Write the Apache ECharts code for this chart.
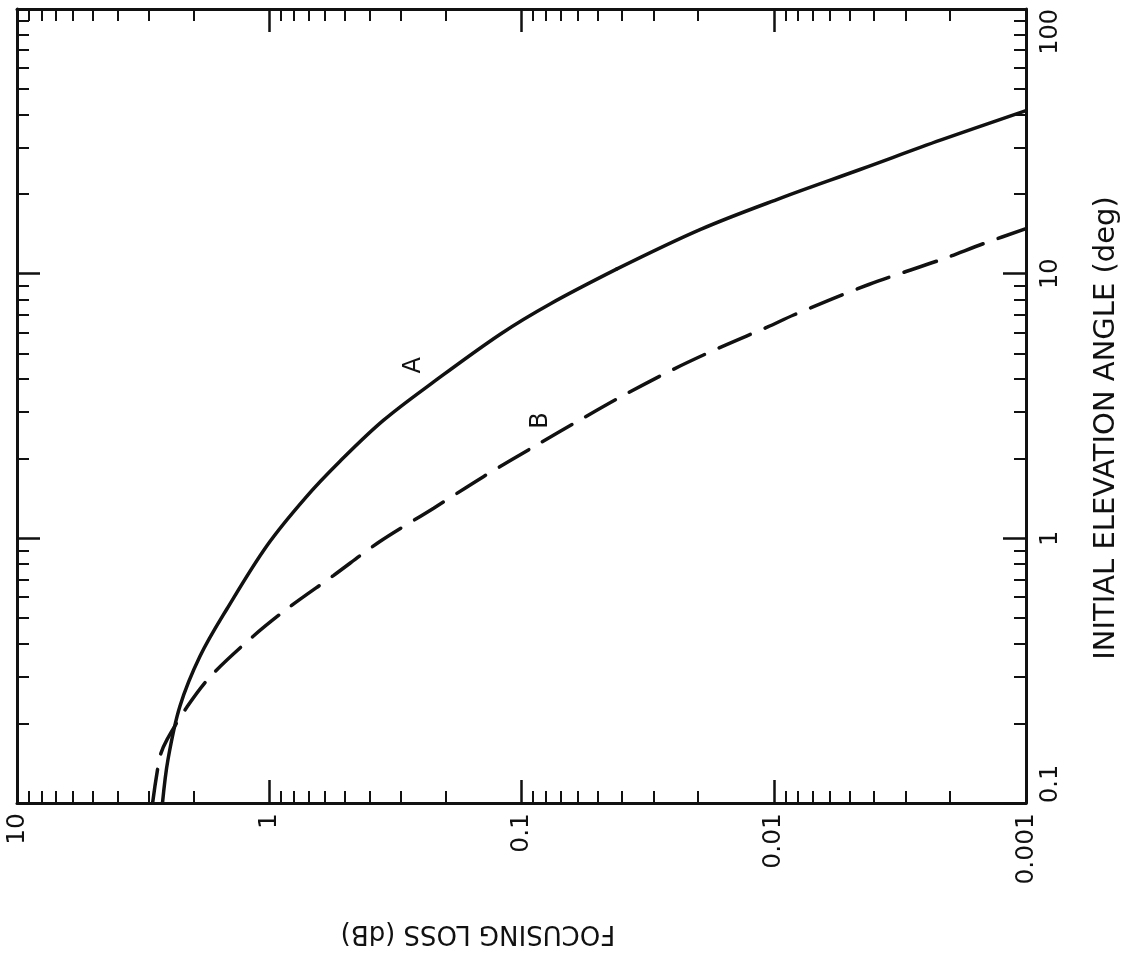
<!DOCTYPE html>
<html>
<head>
<meta charset="utf-8">
<script src="https://cdn.jsdelivr.net/npm/echarts@6/dist/echarts.min.js"></script>
<style>
  html, body { margin: 0; padding: 0; background: #fff; }
  #chart { width: 1126px; height: 958px; }
</style>
</head>
<body>
<div id="chart"></div>
<script>
// Curve A (solid): initial elevation angle (deg) and focusing loss (dB).
// The curve has a corner at about 10 deg; the two pieces are drawn separately.
const angleA = [0.1, 0.146, 0.232, 0.359, 0.542, 0.94, 1.42, 1.96, 2.79, 3.9, 5.92, 7.7, 10.4, 14.7, 19.3, 24.8, 32.0, 41.3];
const lossA  = [2.65, 2.52, 2.26, 1.88, 1.47, 1.02, 0.72, 0.523, 0.353, 0.223, 0.121, 0.0767, 0.042, 0.0195, 0.00938, 0.00452, 0.00217, 0.001];
const cornerA = 12; // index of the corner point in angleA / lossA

// Curve B (dashed)
const angleB = [0.1, 0.15, 0.174, 0.232, 0.301, 0.417, 0.542, 0.723, 0.975, 1.30, 1.71, 2.26, 2.81, 3.47, 4.36, 5.28, 6.29, 6.98, 9.1, 11.3, 13.0, 14.8];
const lossB  = [2.9, 2.71, 2.54, 2.11, 1.71, 1.19, 0.849, 0.557, 0.363, 0.223, 0.1416, 0.0865, 0.0583, 0.0394, 0.0249, 0.0162, 0.01057, 0.00834, 0.0042, 0.00217, 0.00147, 0.001];

// Curve letters, placed in data space
const curveLetters = [
  { name: 'A', loss: 0.268, angle: 4.51 },
  { name: 'B', loss: 0.084, angle: 2.79 }
];

// Axis ranges, decade ticks and their labels
const lossRange = [0.001, 10];
const angleRange = [0.1, 100];
const lossMajor = [0.001, 0.01, 0.1, 1, 10];
const angleMajor = [0.1, 1, 10, 100];
const lossTickLabels = ['0.001', '0.01', '0.1', '1', '10'];
const angleTickLabels = ['0.1', '1', '10', '100'];

// Log-paper minor ticks: 2..9 within every decade
const minorMultipliers = [2, 3, 4, 5, 6, 7, 8, 9];
const lossDecades = [0.001, 0.01, 0.1, 1];
const angleDecades = [0.1, 1, 10];

const lossMinor = [];
lossDecades.forEach(d => minorMultipliers.forEach(m => lossMinor.push(+(d * m).toPrecision(3))));
const angleMinor = [];
angleDecades.forEach(d => minorMultipliers.forEach(m => angleMinor.push(+(d * m).toPrecision(3))));

const FONT = '"DejaVu Sans", "Noto Sans", sans-serif';
const INK = '#111';

function labelFor(values, labels, v) {
  for (let i = 0; i < values.length; i++) {
    if (Math.abs(Math.log10(values[i]) - Math.log10(v)) < 1e-6) return labels[i];
  }
  return '';
}

const chart = echarts.init(document.getElementById('chart'), null, { renderer: 'canvas' });

// Every grid covers the same plot rectangle; each one holds a single
// x axis and a single y axis so that every frame side is drawn on its own.
function plotRect() {
  return { left: 17, right: 100, top: 9, bottom: 155, containLabel: false, outerBoundsMode: 'none' };
}

function axisLineStyle(withLine) {
  return { show: withLine, onZero: false, lineStyle: { color: INK, width: 3 } };
}

function tickStyle(values, len) {
  return { show: true, inside: true, length: len, customValues: values, lineStyle: { color: INK, width: len > 15 ? 2.5 : 2 } };
}

function lossAxis(gridIndex, position, ticks, tickLen, withLine, label) {
  return {
    type: 'log', logBase: 10, gridIndex: gridIndex, position: position,
    min: lossRange[0], max: lossRange[1], inverse: true,
    axisLine: axisLineStyle(withLine),
    axisTick: tickStyle(ticks, tickLen),
    splitLine: { show: false }, minorTick: { show: false },
    axisLabel: label || { show: false }
  };
}

function angleAxis(gridIndex, position, ticks, tickLen, withLine, label) {
  return {
    type: 'log', logBase: 10, gridIndex: gridIndex, position: position,
    min: angleRange[0], max: angleRange[1],
    axisLine: axisLineStyle(withLine),
    axisTick: tickStyle(ticks, tickLen),
    splitLine: { show: false }, minorTick: { show: false },
    axisLabel: label || { show: false }
  };
}

const lossLabel = {
  show: true, rotate: 90, margin: 10, color: INK, fontSize: 25, fontFamily: FONT,
  customValues: lossMajor,
  formatter: v => labelFor(lossMajor, lossTickLabels, v)
};
const angleLabel = {
  show: true, rotate: 90, margin: 13, color: INK, fontSize: 24, fontFamily: FONT,
  customValues: angleMajor,
  alignMinLabel: 'left', alignMaxLabel: 'right',
  formatter: v => labelFor(angleMajor, angleTickLabels, v)
};

function letterMark(letter) {
  return {
    symbol: 'circle', symbolSize: 1, itemStyle: { color: 'rgba(0,0,0,0)' },
    label: { show: true, position: 'inside', rotate: 90, color: INK, fontSize: 24, fontFamily: FONT, formatter: '{b}' },
    data: [{ name: letter.name, coord: [letter.loss, letter.angle] }]
  };
}

const pointsA = angleA.map((a, i) => [lossA[i], a]);
const pointsB = angleB.map((a, i) => [lossB[i], a]);

const option = {
  backgroundColor: '#fff',
  animation: false,
  // grid 0: bottom + right sides with decade ticks, labels and the curves
  // grid 1: top + left sides with decade ticks
  // grid 2: minor ticks on bottom + right; grid 3: minor ticks on top + left
  grid: [plotRect(), plotRect(), plotRect(), plotRect()],
  xAxis: [
    lossAxis(0, 'bottom', lossMajor, 23, true, lossLabel),
    lossAxis(1, 'top', lossMajor, 23, true),
    lossAxis(2, 'bottom', lossMinor, 12, false),
    lossAxis(3, 'top', lossMinor, 12, false)
  ],
  yAxis: [
    angleAxis(0, 'right', angleMajor, 23, true, angleLabel),
    angleAxis(1, 'left', angleMajor, 23, true),
    angleAxis(2, 'right', angleMinor, 12, false),
    angleAxis(3, 'left', angleMinor, 12, false)
  ],
  series: [
    {
      name: 'A', type: 'line', xAxisIndex: 0, yAxisIndex: 0,
      data: pointsA.slice(0, cornerA + 1),
      showSymbol: false, smooth: 0.35,
      lineStyle: { color: INK, width: 3.5, type: 'solid', cap: 'round', join: 'round' },
      markPoint: letterMark(curveLetters[0])
    },
    {
      name: 'A', type: 'line', xAxisIndex: 0, yAxisIndex: 0,
      data: pointsA.slice(cornerA),
      showSymbol: false, smooth: 0.35,
      lineStyle: { color: INK, width: 3.5, type: 'solid', cap: 'round', join: 'round' }
    },
    {
      name: 'B', type: 'line', xAxisIndex: 0, yAxisIndex: 0,
      data: pointsB,
      showSymbol: false, smooth: 0.3,
      lineStyle: { color: INK, width: 3.5, type: [34, 16], cap: 'round' },
      markPoint: letterMark(curveLetters[1])
    }
  ],
  graphic: [
    {
      type: 'text', x: 478, y: 933, rotation: Math.PI,
      style: { text: 'FOCUSING LOSS (dB)', font: '26px ' + FONT, fill: INK, align: 'center', verticalAlign: 'middle', textAlign: 'center', textVerticalAlign: 'middle' }
    },
    {
      type: 'text', x: 1106, y: 428, rotation: Math.PI / 2,
      style: { text: 'INITIAL ELEVATION ANGLE (deg)', font: '29px ' + FONT, fill: INK, align: 'center', verticalAlign: 'middle', textAlign: 'center', textVerticalAlign: 'middle' }
    }
  ]
};

chart.setOption(option);
</script>
</body>
</html>
